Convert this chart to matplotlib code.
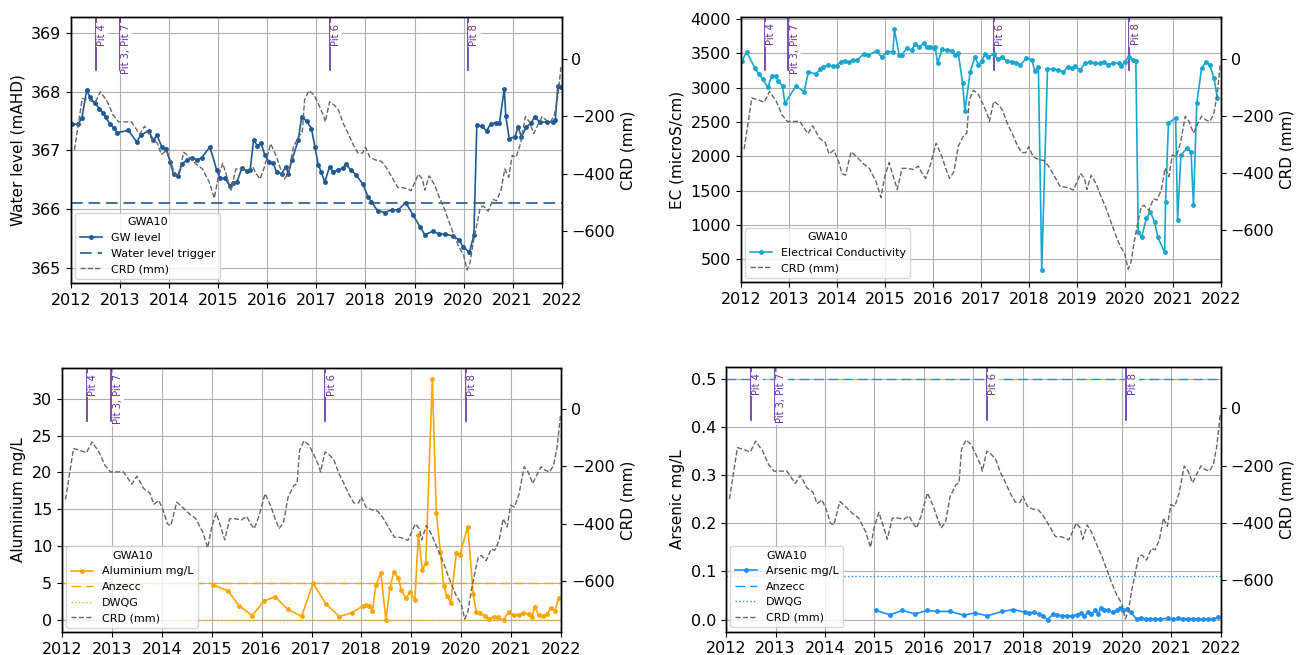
import numpy as np
import matplotlib
matplotlib.use("Agg")
import matplotlib.pyplot as plt
import matplotlib.transforms as mtransforms

#---------------------FONT and other graphics------------------------
matplotlib.rc('font', family='DejaVu Sans', size=11)
matplotlib.rc('axes', linewidth=1.0)
matplotlib.rc('xtick', labelsize=11.5)
matplotlib.rc('ytick', labelsize=11.5)

#---------------------DATA------------------------
# cumulative rainfall deviation (mm), decimal years
crd_yr = [2012.07, 2012.23, 2012.35, 2012.49, 2012.60, 2012.74, 2012.86, 2012.97, 2013.10, 2013.23,
          2013.40, 2013.50, 2013.64, 2013.76, 2013.84, 2013.94, 2014.04, 2014.11, 2014.18, 2014.30,
          2014.41, 2014.55, 2014.68, 2014.82, 2014.92, 2015.00, 2015.09, 2015.18, 2015.26, 2015.36,
          2015.46, 2015.60, 2015.70, 2015.77, 2015.85, 2015.94, 2016.07, 2016.19, 2016.27, 2016.35,
          2016.44, 2016.53, 2016.65, 2016.71, 2016.76, 2016.85, 2016.95, 2017.05, 2017.15, 2017.18,
          2017.27, 2017.36, 2017.45, 2017.55, 2017.65, 2017.75, 2017.85, 2017.94, 2018.00, 2018.09,
          2018.19, 2018.32, 2018.42, 2018.54, 2018.66, 2018.76, 2018.86, 2018.93, 2019.08, 2019.16,
          2019.21, 2019.30, 2019.40, 2019.48, 2019.60, 2019.70, 2019.80, 2019.90, 2020.00, 2020.07,
          2020.13, 2020.20, 2020.27, 2020.34, 2020.40, 2020.50, 2020.60, 2020.67, 2020.76, 2020.84,
          2020.92, 2020.99, 2021.07, 2021.16, 2021.26, 2021.34, 2021.43, 2021.51, 2021.60, 2021.68,
          2021.77, 2021.85, 2021.92, 2021.99]
crd_mm = [-316, -137, -143, -152, -114, -149, -196, -219, -219, -219,
          -262, -234, -278, -293, -333, -319, -360, -401, -407, -325,
          -342, -366, -383, -430, -485, -412, -363, -412, -457, -383,
          -383, -387, -375, -398, -418, -377, -295, -342, -383, -418,
          -395, -307, -266, -260, -143, -110, -125, -160, -200, -219,
          -149, -160, -178, -225, -260, -298, -328, -328, -307, -342,
          -351, -356, -377, -412, -448, -448, -453, -459, -401, -418,
          -457, -407, -436, -471, -518, -565, -612, -653, -682, -735,
          -711, -635, -576, -518, -512, -530, -489, -494, -459, -383,
          -412, -336, -342, -295, -201, -219, -260, -231, -201, -213,
          -219, -196, -131, -20]

# groundwater level (mAHD)
gw_yr = [2012.03, 2012.15, 2012.22, 2012.32, 2012.39, 2012.49, 2012.58, 2012.65, 2012.71, 2012.79,
         2012.88, 2012.94, 2013.17, 2013.34, 2013.42, 2013.58, 2013.68, 2013.75, 2013.85, 2013.94,
         2014.02, 2014.09, 2014.19, 2014.26, 2014.36, 2014.46, 2014.56, 2014.66, 2014.83, 2014.97,
         2015.04, 2015.14, 2015.23, 2015.31, 2015.38, 2015.48, 2015.58, 2015.65, 2015.72, 2015.80,
         2015.87, 2015.95, 2016.04, 2016.12, 2016.19, 2016.29, 2016.38, 2016.43, 2016.50, 2016.63,
         2016.70, 2016.80, 2016.90, 2016.97, 2017.04, 2017.10, 2017.17, 2017.27, 2017.34, 2017.44,
         2017.54, 2017.60, 2017.71, 2017.81, 2017.95, 2018.05, 2018.12, 2018.25, 2018.39, 2018.55,
         2018.66, 2018.82, 2018.97, 2019.11, 2019.21, 2019.37, 2019.49, 2019.62, 2019.79, 2019.91,
         2019.99, 2020.12, 2020.21, 2020.27, 2020.37, 2020.47, 2020.55, 2020.67, 2020.73, 2020.83,
         2020.86, 2020.93, 2021.05, 2021.11, 2021.18, 2021.28, 2021.37, 2021.45, 2021.55, 2021.69,
         2021.82, 2021.87, 2021.92, 2021.99]
gw_lvl = [367.44, 367.45, 367.55, 368.02, 367.90, 367.80, 367.71, 367.64, 367.56, 367.45,
          367.38, 367.30, 367.34, 367.14, 367.26, 367.33, 367.17, 367.26, 367.06, 367.03,
          366.80, 366.59, 366.57, 366.77, 366.83, 366.87, 366.84, 366.87, 367.06, 366.66,
          366.52, 366.52, 366.40, 366.44, 366.46, 366.69, 366.65, 366.66, 367.17, 367.08,
          367.12, 366.92, 366.80, 366.78, 366.63, 366.60, 366.72, 366.60, 366.83, 367.17,
          367.57, 367.50, 367.37, 367.06, 366.75, 366.63, 366.46, 366.72, 366.63, 366.67,
          366.69, 366.76, 366.66, 366.58, 366.42, 366.21, 366.12, 365.97, 365.94, 365.99,
          365.98, 366.11, 365.90, 365.70, 365.56, 365.62, 365.58, 365.57, 365.54, 365.47,
          365.36, 365.26, 365.56, 367.43, 367.41, 367.33, 367.45, 367.47, 367.46, 368.05,
          367.58, 367.20, 367.23, 367.40, 367.23, 367.40, 367.46, 367.57, 367.48, 367.48,
          367.48, 367.52, 368.09, 368.08]
gw_trigger = 366.1

# electrical conductivity (microS/cm)
ec_yr = [2012.03, 2012.12, 2012.30, 2012.37, 2012.46, 2012.56, 2012.65, 2012.73, 2012.78, 2012.87,
         2012.92, 2013.15, 2013.32, 2013.41, 2013.56, 2013.65, 2013.72, 2013.82, 2013.93, 2014.00,
         2014.08, 2014.17, 2014.26, 2014.33, 2014.42, 2014.56, 2014.66, 2014.83, 2014.94, 2015.04,
         2015.17, 2015.20, 2015.30, 2015.35, 2015.46, 2015.56, 2015.63, 2015.72, 2015.81, 2015.88,
         2015.95, 2016.02, 2016.05, 2016.10, 2016.19, 2016.29, 2016.40, 2016.46, 2016.53, 2016.62,
         2016.67, 2016.78, 2016.88, 2016.95, 2017.02, 2017.09, 2017.16, 2017.28, 2017.35, 2017.44,
         2017.54, 2017.65, 2017.74, 2017.82, 2017.95, 2018.07, 2018.12, 2018.20, 2018.27, 2018.39,
         2018.50, 2018.60, 2018.72, 2018.81, 2018.90, 2018.97, 2019.07, 2019.17, 2019.28, 2019.38,
         2019.48, 2019.57, 2019.66, 2019.76, 2019.87, 2019.93, 2020.00, 2020.09, 2020.17, 2020.23,
         2020.28, 2020.35, 2020.45, 2020.53, 2020.62, 2020.69, 2020.83, 2020.85, 2020.91, 2021.06,
         2021.10, 2021.17, 2021.29, 2021.38, 2021.43, 2021.50, 2021.60, 2021.69, 2021.77, 2021.86,
         2021.93]
ec_val = [3388, 3524, 3281, 3199, 3126, 3005, 3175, 3170, 3097, 3024,
          2772, 3024, 2942, 3233, 3199, 3267, 3306, 3330, 3315, 3320,
          3379, 3388, 3369, 3403, 3403, 3490, 3476, 3534, 3442, 3524,
          3524, 3850, 3476, 3476, 3573, 3548, 3631, 3597, 3646, 3587,
          3597, 3582, 3597, 3354, 3558, 3548, 3539, 3476, 3510, 3073,
          2660, 3233, 3451, 3330, 3388, 3490, 3451, 3490, 3413, 3451,
          3388, 3379, 3364, 3330, 3427, 3403, 3247, 3306, 344, 3267,
          3272, 3257, 3233, 3296, 3281, 3315, 3257, 3354, 3379, 3354,
          3354, 3379, 3330, 3364, 3354, 3315, 3379, 3451, 3403, 3393,
          902, 820, 1097, 1194, 1048, 820, 602, 1340, 2490, 2553,
          1073, 2019, 2116, 2068, 1291, 2772, 3281, 3379, 3330, 3136,
          2845]

# aluminium (mg/L)
al_yr = [2015.03, 2015.32, 2015.55, 2015.81, 2016.05, 2016.27, 2016.52, 2016.80, 2017.03, 2017.29,
         2017.56, 2017.81, 2018.03, 2018.10, 2018.15, 2018.22, 2018.29, 2018.39, 2018.49, 2018.57,
         2018.65, 2018.74, 2018.80, 2018.89, 2018.97, 2019.07, 2019.14, 2019.22, 2019.29, 2019.42,
         2019.50, 2019.58, 2019.65, 2019.71, 2019.79, 2019.90, 2019.97, 2020.13, 2020.24, 2020.30,
         2020.38, 2020.47, 2020.55, 2020.65, 2020.73, 2020.85, 2020.95, 2021.05, 2021.15, 2021.24,
         2021.35, 2021.42, 2021.47, 2021.55, 2021.64, 2021.72, 2021.80, 2021.88, 2021.95]
al_val = [4.74, 3.98, 1.94, 0.59, 2.58, 3.16, 1.45, 0.50, 4.97, 2.17,
          0.45, 1.00, 1.90, 2.00, 1.94, 1.27, 4.74, 6.42, 0.00, 4.29,
          6.55, 5.65, 4.07, 2.94, 3.75, 2.71, 11.52, 6.78, 7.77, 32.67,
          14.55, 9.26, 4.61, 3.30, 2.35, 9.04, 8.81, 12.65, 3.52, 1.13,
          0.90, 0.54, 0.09, 0.45, 0.36, 0.00, 1.13, 0.68, 0.68, 0.90,
          0.81, 0.45, 1.81, 0.68, 0.54, 0.81, 1.67, 1.27, 2.94]
al_anzecc = 5.0
al_dwqg = 0.0

# arsenic (mg/L)
as_yr = [2015.04, 2015.31, 2015.56, 2015.82, 2016.07, 2016.27, 2016.53, 2016.81, 2017.03, 2017.28,
         2017.58, 2017.81, 2018.05, 2018.12, 2018.22, 2018.32, 2018.41, 2018.50, 2018.61, 2018.69,
         2018.79, 2018.89, 2018.99, 2019.09, 2019.18, 2019.24, 2019.31, 2019.38, 2019.46, 2019.52,
         2019.58, 2019.64, 2019.73, 2019.82, 2019.90, 2019.97, 2020.03, 2020.11, 2020.18, 2020.30,
         2020.38, 2020.48, 2020.57, 2020.67, 2020.77, 2020.94, 2021.04, 2021.14, 2021.24, 2021.34,
         2021.44, 2021.54, 2021.64, 2021.74, 2021.85, 2021.95]
as_val = [0.019, 0.010, 0.019, 0.012, 0.019, 0.017, 0.017, 0.009, 0.014, 0.008,
          0.017, 0.021, 0.015, 0.014, 0.015, 0.012, 0.008, 0.000, 0.012, 0.010,
          0.008, 0.008, 0.008, 0.010, 0.014, 0.008, 0.015, 0.012, 0.019, 0.012,
          0.024, 0.021, 0.019, 0.015, 0.019, 0.024, 0.019, 0.022, 0.015, 0.001,
          0.003, 0.002, 0.001, 0.002, 0.001, 0.003, 0.001, 0.003, 0.002, 0.002,
          0.002, 0.001, 0.001, 0.001, 0.002, 0.005]
as_anzecc = 0.5
as_dwqg = 0.09

# pit events
pit_yr = [2012.50, 2012.99, 2017.27, 2020.09]
pit_lbl = ['Pit 4', 'Pit 3, Pit 7', 'Pit 6', 'Pit 8']
#-------------------------------------------------

years = np.arange(2012, 2023)
crd_col = '#666666'
pit_col = '#6a2ca8'

fig = plt.figure(figsize=(13.03, 6.55), dpi=100)


def panel(rect, ylabel):
    ax = fig.add_axes(rect)
    ax.set_xlim(2012, 2022)
    ax.set_xticks(years)
    ax.set_xticklabels([str(y) for y in years])
    ax.grid(True, color='#b0b0b0', linewidth=0.8)
    ax.set_axisbelow(True)
    ax.set_ylabel(ylabel)
    bx = ax.twinx()
    bx.plot(crd_yr, crd_mm, color=crd_col, linestyle='--', linewidth=1.0, label='CRD (mm)')
    bx.set_ylim(-780, 146)
    bx.set_yticks([-600, -400, -200, 0])
    bx.set_ylabel('CRD (mm)')
    # pit markers
    trans = mtransforms.blended_transform_factory(ax.transData, ax.transAxes)
    for x, t in zip(pit_yr, pit_lbl):
        ax.axvline(x, ymin=0.8, ymax=1.0, color=pit_col, linewidth=1.2)
        bx.text(x + 0.03, 0.975, t, transform=trans, rotation=90, va='top', ha='left',
                fontsize=7.2, color=pit_col,
                bbox=dict(facecolor='white', edgecolor='none', pad=0.8, alpha=0.9))
    return ax, bx


def legend(ax, bx):
    h1, l1 = ax.get_legend_handles_labels()
    h2, l2 = bx.get_legend_handles_labels()
    bx.legend(h1 + h2, l1 + l2, loc='lower left', title='GWA10', fontsize=8,
              title_fontsize=8, borderaxespad=0.4, framealpha=0.8)


# ---- water level
ax, bx = panel([0.0545, 0.568, 0.3766, 0.406], 'Water level (mAHD)')
ax.plot(gw_yr, gw_lvl, color='#1f5a96', marker='.', markersize=5, linewidth=1.2, label='GW level')
ax.axhline(gw_trigger, color='#1f5a96', linestyle=(0, (7, 3.5)), linewidth=1.2, label='Water level trigger')
ax.set_ylim(364.74, 369.27)
ax.set_yticks([365, 366, 367, 368, 369])
legend(ax, bx)

# ---- EC
ax, bx = panel([0.5685, 0.5695, 0.3684, 0.4046], 'EC (microS/cm)')
ax.plot(ec_yr, ec_val, color='#1aa6d2', marker='.', markersize=5, linewidth=1.2, label='Electrical Conductivity')
ax.set_ylim(170, 4030)
ax.set_yticks(np.arange(500, 4001, 500))
legend(ax, bx)

# ---- aluminium
ax, bx = panel([0.0476, 0.0351, 0.383, 0.4035], 'Aluminium mg/L')
ax.plot(al_yr, al_val, color='orange', marker='.', markersize=5, linewidth=1.2, label='Aluminium mg/L')
ax.axhline(al_anzecc, color='orange', linestyle=(0, (7, 3.5)), linewidth=1.0, label='Anzecc')
ax.axhline(al_dwqg, color='orange', linestyle=':', linewidth=1.0, label='DWQG')
ax.set_ylim(-1.63, 34.2)
ax.set_yticks([0, 5, 10, 15, 20, 25, 30])
legend(ax, bx)

# ---- arsenic
ax, bx = panel([0.5572, 0.0356, 0.3797, 0.4046], 'Arsenic mg/L')
ax.plot(as_yr, as_val, color='dodgerblue', marker='.', markersize=5, linewidth=1.2, label='Arsenic mg/L')
ax.axhline(as_anzecc, color='dodgerblue', linestyle=(0, (7, 3.5)), linewidth=1.0, label='Anzecc')
ax.axhline(as_dwqg, color='dodgerblue', linestyle=':', linewidth=1.0, label='DWQG')
ax.set_ylim(-0.025, 0.525)
ax.set_yticks([0.0, 0.1, 0.2, 0.3, 0.4, 0.5])
legend(ax, bx)

#SAVING
fig.savefig('out.png', dpi=100)
